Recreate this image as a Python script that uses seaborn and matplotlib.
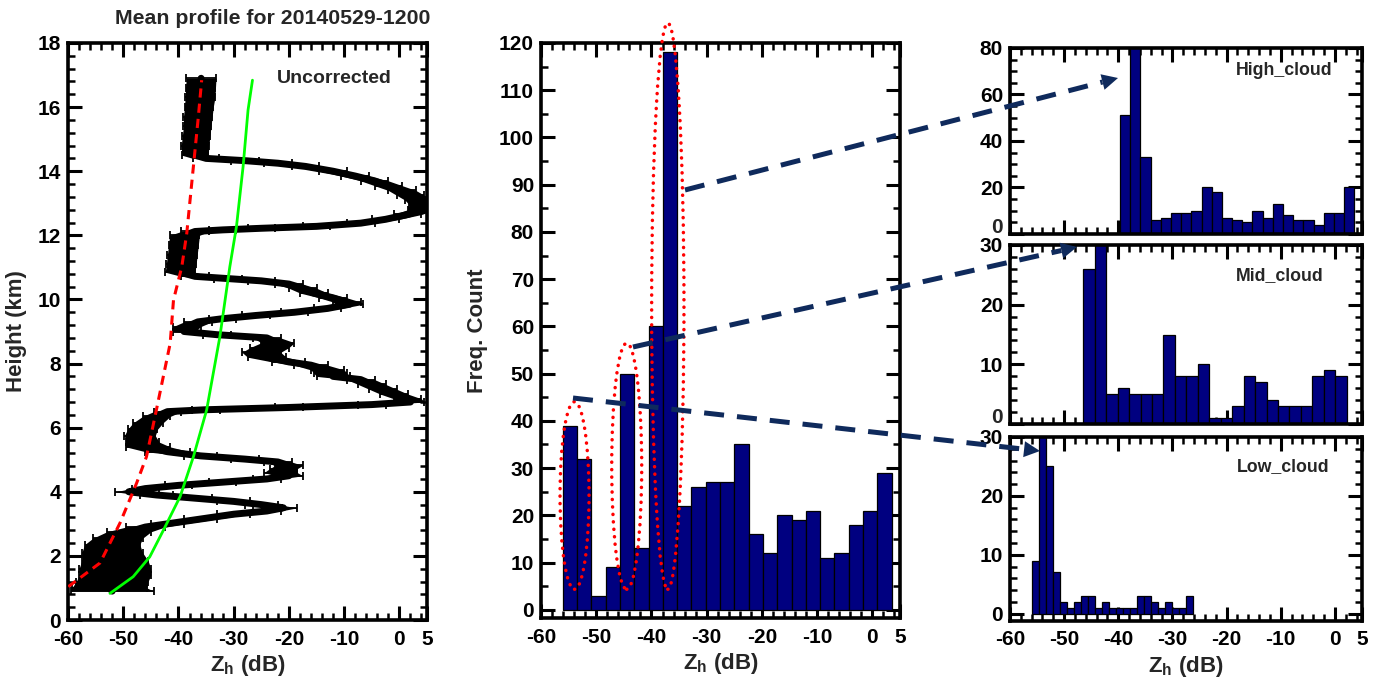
import numpy as np
import pandas as pd
import matplotlib
matplotlib.use("Agg")
import matplotlib.pyplot as plt
import seaborn as sns
from matplotlib.patches import Ellipse, Polygon
from matplotlib.lines import Line2D
from matplotlib.ticker import MultipleLocator, FixedLocator, FuncFormatter

# ---------------------------------------------------------------------------
# Mean reflectivity profile (height in km, mean Zh in dB, half-width of error bar)
prof_height = [16.9, 16.6, 16.3, 16.0, 15.7, 15.4, 15.1, 14.8, 14.5, 14.4,
               14.33, 14.25, 14.15, 14.0, 13.85, 13.7, 13.55, 13.4, 13.25, 13.1,
               12.95, 12.8, 12.65, 12.5, 12.38, 12.28, 12.22, 12.17, 12.12, 12.0,
               11.7, 11.4, 11.1, 10.85, 10.72, 10.65, 10.58, 10.48, 10.35, 10.2,
               10.05, 9.92, 9.85, 9.72, 9.6, 9.5, 9.4, 9.3, 9.15, 9.0,
               8.9, 8.8, 8.65, 8.5, 8.35, 8.2, 8.05, 7.95, 7.8, 7.7,
               7.6, 7.5, 7.35, 7.2, 7.05, 6.9, 6.8, 6.72, 6.63, 6.56,
               6.5, 6.35, 6.15, 5.95, 5.75, 5.55, 5.4, 5.25, 5.12, 5.02,
               4.93, 4.82, 4.72, 4.6, 4.5, 4.4, 4.3, 4.2, 4.1, 4.0,
               3.9, 3.8, 3.7, 3.6, 3.5, 3.4, 3.3, 3.15, 3.0, 2.9,
               2.75, 2.55, 2.35, 2.1, 1.85, 1.6, 1.4, 1.2, 1.0, 0.9]
prof_zh = [-35.9, -36.0, -36.1, -36.3, -36.5, -36.6, -36.8, -37.0, -37.0, -35.0,
           -28.0, -22.0, -17.0, -12.0, -8.0, -4.5, -2.0, 0.5, 2.0, 3.5,
           4.3, 4.0, 1.5, -2.5, -7.0, -15.0, -25.0, -32.0, -37.0, -38.9,
           -39.1, -39.3, -39.5, -39.7, -37.0, -31.0, -25.0, -20.0, -17.5, -15.5,
           -12.0, -9.5, -9.0, -13.0, -19.0, -26.0, -32.0, -36.5, -38.5, -39.0,
           -33.0, -24.0, -22.0, -23.5, -25.0, -24.0, -20.0, -16.0, -13.0, -12.5,
           -12.0, -7.0, -5.0, -3.0, -1.0, 1.5, 2.0, -5.0, -20.0, -35.0,
           -42.0, -44.0, -45.5, -46.5, -47.0, -46.5, -45.5, -42.0, -36.0, -28.0,
           -22.0, -20.0, -21.0, -21.5, -20.0, -24.0, -32.0, -40.0, -46.0, -49.0,
           -44.0, -37.0, -30.0, -25.0, -21.0, -24.0, -30.0, -36.0, -42.0, -46.0,
           -49.0, -51.0, -52.0, -52.0, -51.5, -51.5, -51.5, -52.0, -52.5, -52.0]
prof_err = [2.7, 2.7, 2.7, 2.6, 2.6, 2.5, 2.5, 2.5, 2.4, 2.4,
            2.5, 2.5, 2.5, 2.5, 2.5, 2.5, 2.5, 2.5, 2.5, 2.5,
            2.5, 2.5, 2.5, 2.5, 2.5, 2.5, 2.5, 2.5, 2.5, 2.7,
            2.7, 2.7, 2.7, 2.7, 2.5, 2.5, 2.5, 2.5, 2.5, 2.5,
            2.5, 2.5, 2.5, 2.5, 2.5, 2.5, 2.5, 2.5, 2.5, 2.0,
            2.5, 2.5, 3.0, 3.5, 3.5, 3.5, 3.0, 3.0, 3.0, 3.0,
            3.0, 2.5, 2.5, 2.5, 2.5, 2.5, 2.5, 2.5, 2.5, 2.5,
            2.5, 2.5, 2.7, 2.7, 2.8, 3.0, 4.0, 4.0, 3.0, 2.5,
            2.5, 2.5, 2.5, 3.0, 2.5, 2.5, 2.5, 2.5, 2.5, 2.5,
            3.0, 3.0, 3.0, 3.0, 2.5, 2.5, 3.0, 3.0, 3.0, 3.5,
            4.0, 4.5, 5.0, 5.5, 6.0, 6.5, 6.5, 6.5, 6.8, 7.5]

# Reference curves drawn over the profile
red_height = [1.04, 1.78, 3.02, 4.26, 5.09, 6.55, 8.63, 9.98, 11.02, 12.06, 14.14, 15.70, 16.84]
red_zh = [-59.95, -54.2, -50.6, -47.6, -45.8, -44.0, -41.5, -40.9, -39.4, -38.5, -37.3, -36.4, -35.8]
green_height = [0.83, 1.35, 1.97, 2.81, 3.85, 5.09, 6.55, 8.84, 11.02, 12.27, 14.14, 15.91, 16.84]
green_zh = [-52.4, -48.2, -45.2, -42.7, -39.7, -37.3, -34.9, -32.5, -30.7, -29.5, -28.3, -27.4, -26.6]

# Histogram of all cloud Zh (23 bins)
all_range = (-56.07, 3.50)
all_counts = [39, 32, 3, 9, 50, 13, 60, 118, 22, 26, 27, 27, 35, 16, 12, 20,
              19, 21, 11, 12, 18, 21, 29]

# Histograms per cloud layer (23 bins each)
high_range = (-39.69, 3.59)
high_counts = [51, 82, 33, 6, 7, 9, 9, 10, 20, 18, 7, 6, 5, 10, 7, 13,
               8, 6, 6, 4, 9, 9, 20]
mid_range = (-46.46, 2.18)
mid_counts = [26, 31, 5, 6, 5, 5, 5, 15, 8, 8, 10, 1, 1, 3, 8, 7,
              4, 3, 3, 3, 8, 9, 8]
low_range = (-56.0, -26.15)
low_counts = [9, 31, 25, 7, 2, 1, 2, 3, 3, 1, 2, 1, 1, 1, 1, 3,
              3, 2, 1, 2, 1, 1, 3]

zh_ticks = [-60, -50, -40, -30, -20, -10, 0, 5]
zh_ticklabels = ["-60", "-50", "-40", "-30", "-20", "-10", "0", "5"]

title_text = "Mean profile for 20140529-1200"
zh_label = r"$\mathrm{Z_h}$ (dB)"

# ---------------------------------------------------------------------------
sns.set_theme(style="ticks")
plt.rcParams["font.family"] = ["Liberation Sans", "DejaVu Sans"]
plt.rcParams["font.weight"] = "bold"
plt.rcParams["axes.labelweight"] = "bold"
plt.rcParams["axes.unicode_minus"] = False
plt.rcParams["mathtext.fontset"] = "custom"
plt.rcParams["mathtext.rm"] = "Liberation Sans:bold"
plt.rcParams["mathtext.it"] = "Liberation Sans:bold"
plt.rcParams["mathtext.bf"] = "Liberation Sans:bold"

NAVY_BAR = "#000080"
NAVY_ARROW = "#0f2a5c"
TICK_FS = 15
YPAD = 5

W, H = 1385, 688
fig = plt.figure(figsize=(W / 100, H / 100), dpi=100)
fig.patch.set_facecolor("white")


def box(left, top, right, bottom):
    return [left / W, 1 - bottom / H, (right - left) / W, (bottom - top) / H]


ax_prof = fig.add_axes(box(68, 43, 427, 620))
ax_all = fig.add_axes(box(541, 43, 900, 618.3))
ax_hi = fig.add_axes(box(1010, 48, 1362, 234))
ax_mid = fig.add_axes(box(1010, 245, 1362, 424))
ax_low = fig.add_axes(box(1010, 437, 1362, 620.7))


def style_axes(ax, ymajor, yminor, xlabels=True):
    ax.set_xlim(-60, 5)
    ax.xaxis.set_major_locator(FixedLocator(zh_ticks))
    ax.xaxis.set_minor_locator(MultipleLocator(2))
    ax.yaxis.set_major_locator(MultipleLocator(ymajor))
    ax.yaxis.set_minor_locator(MultipleLocator(yminor))
    if xlabels:
        ax.set_xticklabels(zh_ticklabels)
    else:
        ax.set_xticklabels([])
    ax.tick_params(which="both", direction="in", top=True, right=True,
                   labelsize=TICK_FS, colors="black")
    ax.tick_params(axis="x", pad=7)
    ax.tick_params(axis="y", pad=YPAD)
    ax.tick_params(which="major", length=10, width=2.2)
    ax.tick_params(which="minor", length=5, width=1.8)
    for sp in ax.spines.values():
        sp.set_visible(True)
        sp.set_linewidth(2.6)
        sp.set_color("black")
    ax.set_facecolor("white")
    ax.grid(False)


def raised_zero_label(ax):
    # the zero label of a stacked panel sits just above the next panel's top label
    ax.yaxis.set_major_formatter(FuncFormatter(lambda v, p: "" if v == 0 else f"{v:g}"))
    ax.annotate("0", xy=(0, 0), xycoords=ax.get_yaxis_transform(),
                xytext=(-YPAD, 5), textcoords="offset points",
                ha="right", va="center", fontsize=TICK_FS, fontweight="bold",
                annotation_clip=False)


# --- Left: mean profile --------------------------------------------------
ph = np.array(prof_height)
pz = np.array(prof_zh)
pe = np.array(prof_err)
ax_prof.fill_betweenx(ph, pz - pe, pz + pe, color="black", lw=0, zorder=2)
ax_prof.plot(pz, ph, color="black", lw=5, zorder=2)
ax_prof.errorbar(pz, ph, xerr=pe, fmt="none", ecolor="black", elinewidth=1.3,
                 capsize=2.8, capthick=1.3, zorder=2)
sns.lineplot(x=red_zh, y=red_height, sort=False, estimator=None, color="red",
             lw=2.2, linestyle=(0, (3, 2)), ax=ax_prof, zorder=3)
sns.lineplot(x=green_zh, y=green_height, sort=False, estimator=None,
             color="#00ff00", lw=2, ax=ax_prof, zorder=3)
style_axes(ax_prof, 2, 0.4)
ax_prof.set_ylim(0, 18)
ax_prof.set_xlim(-60, 5)
ax_prof.set_xlabel(zh_label, fontsize=16, labelpad=3)
ax_prof.set_ylabel("Height (km)", fontsize=16, labelpad=8)
ax_prof.text(-11.7, 16.9, "Uncorrected", ha="center", va="center",
             fontsize=14, fontweight="bold")
fig.text(273 / W, 1 - 19 / H, title_text, ha="center", va="center",
         fontsize=15.3, fontweight="bold")


# --- Histograms -----------------------------------------------------------
def draw_hist(ax, rng, counts):
    n = len(counts)
    width = (rng[1] - rng[0]) / n
    centers = [rng[0] + (i + 0.5) * width for i in range(n)]
    df = pd.DataFrame({"zh": centers, "count": counts})
    sns.histplot(data=df, x="zh", weights="count", bins=n,
                 binrange=(rng[0], rng[1]), ax=ax,
                 color=NAVY_BAR, edgecolor="black", linewidth=0.9, alpha=1.0)
    ax.set_xlabel("")
    ax.set_ylabel("")


draw_hist(ax_all, all_range, all_counts)
style_axes(ax_all, 10, 5)
ax_all.set_ylim(-1.8, 120)
ax_all.set_xlabel(zh_label, fontsize=16, labelpad=3)
ax_all.set_ylabel("Freq. Count", fontsize=16, labelpad=8)

draw_hist(ax_hi, high_range, high_counts)
style_axes(ax_hi, 20, 5, xlabels=False)
ax_hi.set_ylim(0, 80)
raised_zero_label(ax_hi)
ax_hi.text(0.78, 0.88, "High_cloud", transform=ax_hi.transAxes,
           ha="center", va="center", fontsize=12.8, fontweight="bold")

draw_hist(ax_mid, mid_range, mid_counts)
style_axes(ax_mid, 10, 2, xlabels=False)
ax_mid.set_ylim(0, 30)
raised_zero_label(ax_mid)
ax_mid.text(0.767, 0.83, "Mid_cloud", transform=ax_mid.transAxes,
            ha="center", va="center", fontsize=12.8, fontweight="bold")

draw_hist(ax_low, low_range, low_counts)
style_axes(ax_low, 10, 2)
ax_low.set_ylim(-1.2, 30)
ax_low.set_xlabel(zh_label, fontsize=16, labelpad=3)
ax_low.text(0.776, 0.84, "Low_cloud", transform=ax_low.transAxes,
            ha="center", va="center", fontsize=12.8, fontweight="bold")

# --- Dotted red ellipses around the three modes ---------------------------
for cx, cy, w, h in [(-53.93, 24.2, 5.25, 39.7),
                     (-44.48, 30.4, 5.43, 52.1),
                     (-37.04, 64.3, 5.85, 119.9)]:
    e = Ellipse((cx, cy), w, h, fill=False, edgecolor="red", lw=2.5,
                linestyle=(0, (0.05, 2.1)), clip_on=False, zorder=6)
    e.set_capstyle("round")
    ax_all.add_patch(e)


# --- Dashed arrows from the modes to the layer histograms -----------------
def dashed_arrow(p0, p1):
    (x0, y0), (x1, y1) = p0, p1
    dx, dy = x1 - x0, y1 - y0
    L = np.hypot(dx, dy)
    ux, uy = dx / L, dy / L
    hl, hw = 16, 8
    bx, by = x1 - ux * hl, y1 - uy * hl
    fig.add_artist(Line2D([x0 / W, bx / W], [1 - y0 / H, 1 - by / H],
                          transform=fig.transFigure, color=NAVY_ARROW, lw=3.6,
                          linestyle=(0, (4, 2.6)), dash_capstyle="butt",
                          zorder=8))
    pts = [(x1, y1), (bx - uy * hw, by + ux * hw), (bx + uy * hw, by - ux * hw)]
    fig.add_artist(Polygon([(px / W, 1 - py / H) for px, py in pts], closed=True,
                           facecolor=NAVY_ARROW, edgecolor="none",
                           transform=fig.transFigure, zorder=8))


dashed_arrow((685, 190), (1118, 78))
dashed_arrow((633, 347), (1077, 247))
dashed_arrow((573, 398), (1040, 451))

fig.savefig("out.png", dpi=100, facecolor="white")
